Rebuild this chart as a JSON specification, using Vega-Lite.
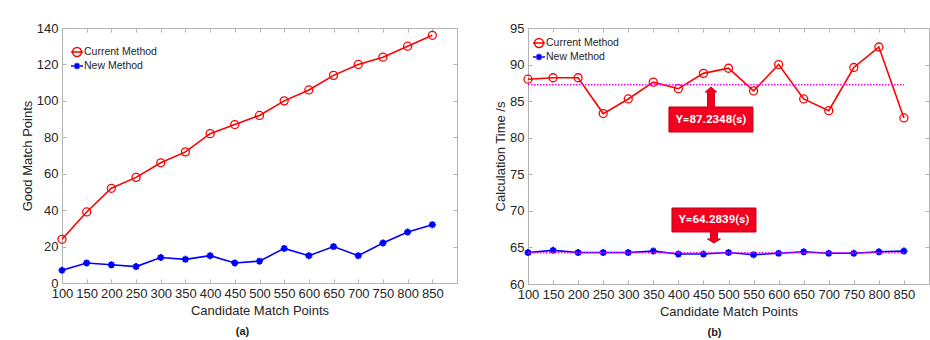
{
  "$schema": "https://vega.github.io/schema/vega-lite/v6.json",
  "padding": {"left": 20, "top": 21, "right": 2, "bottom": 2},
  "spacing": 36,
  "background": "white",
  "resolve": {"scale": {"color": "independent"}, "legend": {"color": "independent"}},
  "config": {
    "font": "Liberation Sans",
    "view": {"stroke": "#b3b3b3", "strokeWidth": 1},
    "axis": {
      "grid": false,
      "domain": false,
      "tickColor": "#b3b3b3",
      "tickSize": -4,
      "labelPadding": 8,
      "labelFlush": false,
      "labelOverlap": false,
      "labelFont": "Liberation Sans",
      "labelFontSize": 13,
      "labelColor": "#262626",
      "titleFont": "Liberation Sans",
      "titleFontSize": 13,
      "titleFontWeight": "normal",
      "titleColor": "#262626"
    },
    "axisX": {"titlePadding": 4},
    "axisY": {"titlePadding": 2},
    "title": {"font": "Liberation Sans", "fontSize": 11, "fontWeight": "bold", "color": "#222222"}
  },
  "datasets": {
    "count": [
      {"series": "Current Method", "x": 100, "y": 24},
      {"series": "Current Method", "x": 150, "y": 39},
      {"series": "Current Method", "x": 200, "y": 52},
      {"series": "Current Method", "x": 250, "y": 58},
      {"series": "Current Method", "x": 300, "y": 66},
      {"series": "Current Method", "x": 350, "y": 72},
      {"series": "Current Method", "x": 400, "y": 82},
      {"series": "Current Method", "x": 450, "y": 87},
      {"series": "Current Method", "x": 500, "y": 92},
      {"series": "Current Method", "x": 550, "y": 100},
      {"series": "Current Method", "x": 600, "y": 106},
      {"series": "Current Method", "x": 650, "y": 114},
      {"series": "Current Method", "x": 700, "y": 120},
      {"series": "Current Method", "x": 750, "y": 124},
      {"series": "Current Method", "x": 800, "y": 130},
      {"series": "Current Method", "x": 850, "y": 136},
      {"series": "New Method", "x": 100, "y": 7},
      {"series": "New Method", "x": 150, "y": 11},
      {"series": "New Method", "x": 200, "y": 10},
      {"series": "New Method", "x": 250, "y": 9},
      {"series": "New Method", "x": 300, "y": 14},
      {"series": "New Method", "x": 350, "y": 13},
      {"series": "New Method", "x": 400, "y": 15},
      {"series": "New Method", "x": 450, "y": 11},
      {"series": "New Method", "x": 500, "y": 12},
      {"series": "New Method", "x": 550, "y": 19},
      {"series": "New Method", "x": 600, "y": 15},
      {"series": "New Method", "x": 650, "y": 20},
      {"series": "New Method", "x": 700, "y": 15},
      {"series": "New Method", "x": 750, "y": 22},
      {"series": "New Method", "x": 800, "y": 28},
      {"series": "New Method", "x": 850, "y": 32}
    ],
    "time": [
      {"series": "Current Method", "x": 100, "y": 88.0},
      {"series": "Current Method", "x": 150, "y": 88.2},
      {"series": "Current Method", "x": 200, "y": 88.2},
      {"series": "Current Method", "x": 250, "y": 83.3},
      {"series": "Current Method", "x": 300, "y": 85.3},
      {"series": "Current Method", "x": 350, "y": 87.6},
      {"series": "Current Method", "x": 400, "y": 86.7},
      {"series": "Current Method", "x": 450, "y": 88.8},
      {"series": "Current Method", "x": 500, "y": 89.5},
      {"series": "Current Method", "x": 550, "y": 86.4},
      {"series": "Current Method", "x": 600, "y": 90.0},
      {"series": "Current Method", "x": 650, "y": 85.3},
      {"series": "Current Method", "x": 700, "y": 83.7},
      {"series": "Current Method", "x": 750, "y": 89.6},
      {"series": "Current Method", "x": 800, "y": 92.4},
      {"series": "Current Method", "x": 850, "y": 82.7},
      {"series": "New Method", "x": 100, "y": 64.3},
      {"series": "New Method", "x": 150, "y": 64.6},
      {"series": "New Method", "x": 200, "y": 64.3},
      {"series": "New Method", "x": 250, "y": 64.3},
      {"series": "New Method", "x": 300, "y": 64.3},
      {"series": "New Method", "x": 350, "y": 64.5},
      {"series": "New Method", "x": 400, "y": 64.1},
      {"series": "New Method", "x": 450, "y": 64.1},
      {"series": "New Method", "x": 500, "y": 64.3},
      {"series": "New Method", "x": 550, "y": 64.0},
      {"series": "New Method", "x": 600, "y": 64.2},
      {"series": "New Method", "x": 650, "y": 64.4},
      {"series": "New Method", "x": 700, "y": 64.2},
      {"series": "New Method", "x": 750, "y": 64.2},
      {"series": "New Method", "x": 800, "y": 64.4},
      {"series": "New Method", "x": 850, "y": 64.5}
    ],
    "means": [
      {"series": "Current Method", "from": 100, "to": 850, "mean": 87.2348},
      {"series": "New Method", "from": 100, "to": 850, "mean": 64.2839}
    ],
    "notes": [
      {"label": "Y=87.2348(s)", "dir": "up", "x": 465, "y": 82.49},
      {"label": "Y=64.2839(s)", "dir": "down", "x": 471, "y": 68.75}
    ]
  },
  "hconcat": [
    {
      "width": 395,
      "height": 255,
      "title": {"text": "(a)", "orient": "bottom", "offset": 9, "dx": -17},
      "data": {"name": "count"},
      "resolve": {"axis": {"x": "independent", "y": "independent"}},
      "layer": [
        {
          "mark": {"type": "line", "strokeWidth": 1.6},
          "encoding": {
            "x": {"field": "x", "type": "quantitative", "scale": {"domain": [100, 900], "nice": false, "zero": false},
                  "axis": {"orient": "bottom", "title": "Candidate Match Points", "values": [100, 150, 200, 250, 300, 350, 400, 450, 500, 550, 600, 650, 700, 750, 800, 850]}},
            "y": {"field": "y", "type": "quantitative", "scale": {"domain": [0, 140], "nice": false},
                  "axis": {"orient": "left", "title": "Good Match Points", "values": [0, 20, 40, 60, 80, 100, 120, 140]}},
            "color": {"field": "series", "type": "nominal",
                      "scale": {"domain": ["Current Method", "New Method"], "range": ["#ff0000", "#0000ff"]},
                      "legend": {
                        "title": null, "orient": "none", "legendX": 9, "legendY": 17, "padding": 0,
                        "labelFont": "Liberation Sans", "labelFontSize": 10.5, "labelColor": "#262626", "labelOffset": 1,
                        "symbolSize": 110, "symbolStrokeWidth": 1.5, "rowPadding": 0, "clipHeight": 14,
                        "encoding": {"symbols": {"shape": {"value": {"expr": "datum.value === 'Current Method' ? 'M-1.15,0H1.15M0.84,0A0.84,0.84 0 1,1 -0.84,0A0.84,0.84 0 1,1 0.84,0' : 'M-1.15,0H1.15M0,-0.63V0.63M-0.45,-0.45L0.45,0.45M-0.45,0.45L0.45,-0.45'"}}}}
                      }}
          }
        },
        {
          "mark": {"type": "point", "filled": false, "opacity": 1},
          "encoding": {
            "x": {"field": "x", "type": "quantitative", "scale": {"domain": [100, 900], "nice": false, "zero": false},
                  "axis": {"orient": "top", "title": null, "labels": false, "labelPadding": 0, "values": [100, 150, 200, 250, 300, 350, 400, 450, 500, 550, 600, 650, 700, 750, 800, 850]}},
            "y": {"field": "y", "type": "quantitative", "scale": {"domain": [0, 140], "nice": false},
                  "axis": {"orient": "right", "title": null, "labels": false, "labelPadding": 0, "values": [0, 20, 40, 60, 80, 100, 120, 140]}},
            "color": {"field": "series", "type": "nominal", "legend": null},
            "shape": {"field": "series", "type": "nominal",
                      "scale": {"domain": ["Current Method", "New Method"], "range": ["circle", "M0,-1V1M-1,0H1M-0.7,-0.7L0.7,0.7M-0.7,0.7L0.7,-0.7"]}, "legend": null},
            "size": {"field": "series", "type": "nominal", "scale": {"domain": ["Current Method", "New Method"], "range": [64, 49]}, "legend": null},
            "strokeWidth": {"field": "series", "type": "nominal", "scale": {"domain": ["Current Method", "New Method"], "range": [1.3, 1.9]}, "legend": null}
          }
        }
      ]
    },
    {
      "width": 401,
      "height": 256,
      "title": {"text": "(b)", "orient": "bottom", "offset": 9, "dx": -14},
      "data": {"name": "time"},
      "resolve": {"axis": {"x": "independent", "y": "independent"}},
      "layer": [
        {
          "mark": {"type": "line", "strokeWidth": 1.6},
          "encoding": {
            "x": {"field": "x", "type": "quantitative", "scale": {"domain": [100, 900], "nice": false, "zero": false},
                  "axis": {"orient": "bottom", "title": "Candidate Match Points", "values": [100, 150, 200, 250, 300, 350, 400, 450, 500, 550, 600, 650, 700, 750, 800, 850]}},
            "y": {"field": "y", "type": "quantitative", "scale": {"domain": [60, 95], "nice": false, "zero": false},
                  "axis": {"orient": "left", "title": "Calculation Time /s", "values": [60, 65, 70, 75, 80, 85, 90, 95]}},
            "color": {"field": "series", "type": "nominal",
                      "scale": {"domain": ["Current Method", "New Method"], "range": ["#ff0000", "#0000ff"]},
                      "legend": {
                        "title": null, "orient": "none", "legendX": 5, "legendY": 8, "padding": 0,
                        "labelFont": "Liberation Sans", "labelFontSize": 10.5, "labelColor": "#262626", "labelOffset": 1,
                        "symbolSize": 110, "symbolStrokeWidth": 1.5, "rowPadding": 0, "clipHeight": 14,
                        "encoding": {"symbols": {"shape": {"value": {"expr": "datum.value === 'Current Method' ? 'M-1.15,0H1.15M0.84,0A0.84,0.84 0 1,1 -0.84,0A0.84,0.84 0 1,1 0.84,0' : 'M-1.15,0H1.15M0,-0.63V0.63M-0.45,-0.45L0.45,0.45M-0.45,0.45L0.45,-0.45'"}}}}
                      }}
          }
        },
        {
          "mark": {"type": "point", "filled": false, "opacity": 1},
          "encoding": {
            "x": {"field": "x", "type": "quantitative", "scale": {"domain": [100, 900], "nice": false, "zero": false},
                  "axis": {"orient": "top", "title": null, "labels": false, "labelPadding": 0, "values": [100, 150, 200, 250, 300, 350, 400, 450, 500, 550, 600, 650, 700, 750, 800, 850]}},
            "y": {"field": "y", "type": "quantitative", "scale": {"domain": [60, 95], "nice": false, "zero": false},
                  "axis": {"orient": "right", "title": null, "labels": false, "labelPadding": 0, "values": [60, 65, 70, 75, 80, 85, 90, 95]}},
            "color": {"field": "series", "type": "nominal", "legend": null},
            "shape": {"field": "series", "type": "nominal",
                      "scale": {"domain": ["Current Method", "New Method"], "range": ["circle", "M0,-1V1M-1,0H1M-0.7,-0.7L0.7,0.7M-0.7,0.7L0.7,-0.7"]}, "legend": null},
            "size": {"field": "series", "type": "nominal", "scale": {"domain": ["Current Method", "New Method"], "range": [64, 49]}, "legend": null},
            "strokeWidth": {"field": "series", "type": "nominal", "scale": {"domain": ["Current Method", "New Method"], "range": [1.3, 1.9]}, "legend": null}
          }
        },
        {
          "data": {"name": "means"},
          "mark": {"type": "rule", "color": "#ff00ff", "strokeWidth": 1.5, "strokeDash": [1.5, 1.5]},
          "encoding": {
            "x": {"field": "from", "type": "quantitative", "scale": {"domain": [100, 900], "nice": false, "zero": false}, "axis": null},
            "x2": {"field": "to"},
            "y": {"field": "mean", "type": "quantitative", "scale": {"domain": [60, 95], "nice": false, "zero": false}, "axis": null}
          }
        },
        {
          "data": {"name": "notes"},
          "transform": [{"filter": "datum.dir === 'up'"}],
          "mark": {"type": "point", "filled": true, "opacity": 1, "fill": "#f2001e", "stroke": "#c40016", "strokeWidth": 1, "size": 7056,
                   "shape": "M-1,-0.298H-0.083V-0.655H-0.135L0,-0.774L0.135,-0.655H0.083V-0.298H1V0.298H-1Z"},
          "encoding": {
            "x": {"field": "x", "type": "quantitative", "scale": {"domain": [100, 900], "nice": false, "zero": false}, "axis": null},
            "y": {"field": "y", "type": "quantitative", "scale": {"domain": [60, 95], "nice": false, "zero": false}, "axis": null}
          }
        },
        {
          "data": {"name": "notes"},
          "transform": [{"filter": "datum.dir === 'down'"}],
          "mark": {"type": "point", "filled": true, "opacity": 1, "fill": "#f2001e", "stroke": "#c40016", "strokeWidth": 1, "size": 7056,
                   "shape": "M-1,-0.286H1V0.286H0.083V0.452H0.155L0,0.548L-0.155,0.452H-0.083V0.286H-1Z"},
          "encoding": {
            "x": {"field": "x", "type": "quantitative", "scale": {"domain": [100, 900], "nice": false, "zero": false}, "axis": null},
            "y": {"field": "y", "type": "quantitative", "scale": {"domain": [60, 95], "nice": false, "zero": false}, "axis": null}
          }
        },
        {
          "data": {"name": "notes"},
          "mark": {"type": "text", "color": "white", "font": "Roboto", "fontWeight": "bold", "fontSize": 11.5, "align": "center", "baseline": "middle"},
          "encoding": {
            "x": {"field": "x", "type": "quantitative", "scale": {"domain": [100, 900], "nice": false, "zero": false}, "axis": null},
            "y": {"field": "y", "type": "quantitative", "scale": {"domain": [60, 95], "nice": false, "zero": false}, "axis": null},
            "text": {"field": "label"}
          }
        }
      ]
    }
  ]
}
